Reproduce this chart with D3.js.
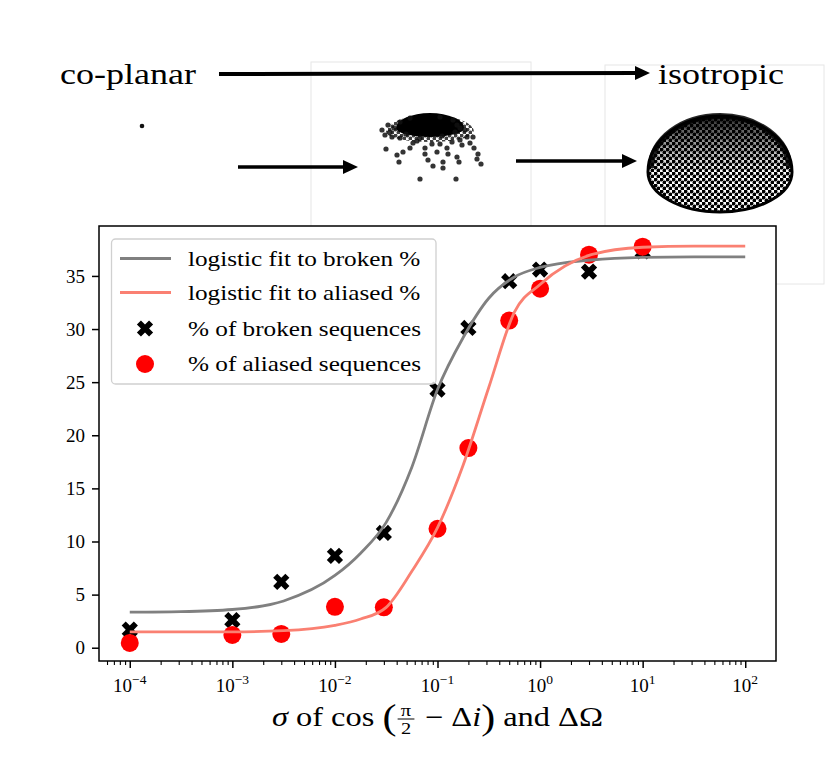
<!DOCTYPE html>
<html>
<head>
<meta charset="utf-8">
<script src="https://d3js.org/d3.v7.min.js"></script>
<style>
body{margin:0;background:#fff;}
text{font-family:"Liberation Serif","DejaVu Serif",serif;fill:#000;}
</style>
</head>
<body>
<script>
var w = 831;
var h = 759;

// sigma values of the runs and the measured percentages
var sigma = [1e-4, 1e-3, 3e-3, 1e-2, 3e-2, 1e-1, 2e-1, 5e-1, 1, 3, 10];
var brokenPct = [1.7, 2.6, 6.2, 8.65, 10.8, 24.3, 30.1, 34.5, 35.6, 35.4, 37.3];
var aliasedPct = [0.45, 1.2, 1.3, 3.85, 3.8, 11.2, 18.8, 30.8, 33.8, 37.0, 37.75];

// logistic fit curves
var fitSigma = [1e-4, 3.16e-4, 1e-3, 3.16e-3, 1e-2, 1.78e-2, 3.16e-2, 5.62e-2, 1e-1, 1.78e-1, 3.16e-1, 5.62e-1, 1, 3.16, 10, 31.6, 100];
var brokenFit = [3.35, 3.4, 3.6, 4.4, 6.8, 8.9, 11.8, 17.0, 24.3, 29.2, 32.9, 34.9, 35.8, 36.5, 36.75, 36.8, 36.8];
var aliasedFit = [1.5, 1.5, 1.5, 1.6, 2.1, 2.7, 3.8, 7.2, 11.3, 17.2, 24.5, 31.6, 34.2, 37.0, 37.7, 37.8, 37.8];

var yTicks = [0, 5, 10, 15, 20, 25, 30, 35];
var xTickExp = [-4, -3, -2, -1, 0, 1, 2];
var legendLabels = ["logistic fit to broken %", "logistic fit to aliased %",
                    "% of broken sequences", "% of aliased sequences"];
var topLabels = ["co-planar", "isotropic"];

// scattered points of the middle inset (offsets from the cloud centre)
var cloudPts = [[-48,-10],[-45,-5],[-44,9],[-33,15],[-31,22],[-27,12],[-10,39],[26,39],[-2,20],[3,26],
                [13,22],[13,28],[27,17],[29,22],[48,14],[47,19],[51,24],[40,3],[43,-3],[32,5],
                [30,-12],[27,-15],[-42,-15],[-40,-8],[-30,-2],[-17,3],[-5,8],[7,12],[17,8],[22,2],
                [30,0],[-5,14],[-30,-18],[-20,-22],[10,-23],[23,-20],[-13,1],[2,4],[18,14],[37,-3],
                [-36,-12],[-24,-6],[-10,-2],[12,-4],[25,-8],[35,-10],[-38,-3],[-20,8],[10,4],[44,8]];

// Computer Modern is about 20% wider than Liberation Serif
var widen = 1.2;
function stretch(sel) {
    sel.each(function(){
        var n = this;
        n.setAttribute("textLength", n.getComputedTextLength() * widen);
        n.setAttribute("lengthAdjust", "spacingAndGlyphs");
    });
}

var svg = d3.select("body").append("svg")
    .attr("width", w)
    .attr("height", h)
    .style("display", "block");

var defs = svg.append("defs");
defs.append("marker")
    .attr("id", "head")
    .attr("markerUnits", "userSpaceOnUse")
    .attr("viewBox", "0 -7 15 14")
    .attr("refX", 3).attr("refY", 0)
    .attr("markerWidth", 15).attr("markerHeight", 14)
    .attr("orient", "auto")
  .append("path")
    .attr("d", "M0,-7L15,0L0,7Z")
    .attr("fill", "#000");

var pat = defs.append("pattern")
    .attr("id", "dots")
    .attr("patternUnits", "userSpaceOnUse")
    .attr("width", 6).attr("height", 6);
pat.append("circle").attr("cx", 1.5).attr("cy", 1.5).attr("r", 1.95).attr("fill", "#000");
pat.append("circle").attr("cx", 4.5).attr("cy", 4.5).attr("r", 1.95).attr("fill", "#000");

var grad = defs.append("linearGradient")
    .attr("id", "capShade")
    .attr("x1", 0).attr("y1", 0).attr("x2", 0).attr("y2", 1);
grad.append("stop").attr("offset", "0%").attr("stop-color", "#000").attr("stop-opacity", 0.85);
grad.append("stop").attr("offset", "55%").attr("stop-color", "#000").attr("stop-opacity", 0.35);
grad.append("stop").attr("offset", "100%").attr("stop-color", "#000").attr("stop-opacity", 0);

// ---------- insets above the chart ----------
var insets = svg.append("g");

insets.selectAll("rect.frame")
    .data([[311, 62, 220, 220], [605, 65, 219, 219]])
  .enter().append("rect")
    .attr("class", "frame")
    .attr("x", function(d){ return d[0]; })
    .attr("y", function(d){ return d[1]; })
    .attr("width", function(d){ return d[2]; })
    .attr("height", function(d){ return d[3]; })
    .attr("fill", "none")
    .attr("stroke", "#e6e6e6")
    .attr("stroke-width", 1);

insets.append("text").attr("x", 60).attr("y", 84)
    .style("font-size", "30px").text(topLabels[0]).call(stretch);
insets.append("text").attr("x", 658).attr("y", 84)
    .style("font-size", "30px").text(topLabels[1]).call(stretch);

insets.selectAll("line.arrow")
    .data([[219, 74, 650, 73, 4], [238, 167, 358, 167, 3.5], [516, 161, 637, 161, 3.5]])
  .enter().append("line")
    .attr("class", "arrow")
    .attr("x1", function(d){ return d[0]; })
    .attr("y1", function(d){ return d[1]; })
    .attr("x2", function(d){ return d[2] - 12; })
    .attr("y2", function(d){ return d[3]; })
    .attr("stroke", "#000")
    .attr("stroke-width", function(d){ return d[4]; })
    .attr("marker-end", "url(#head)");

// co-planar: all points on one spot
insets.append("circle").attr("cx", 142).attr("cy", 126).attr("r", 2.3).attr("fill", "#111");

// intermediate: dense cap plus scattered points
var cloud = insets.append("g").attr("transform", "translate(430,140)");
cloud.append("path")
    .attr("d", "M-44,-8A44,17 0 0 1 44,-8A44,10 0 0 1 -44,-8Z")
    .attr("fill", "url(#dots)").attr("opacity", 0.75);
cloud.append("path")
    .attr("d", "M-34,-12A34,15 0 0 1 34,-12A34,9 0 0 1 -34,-12Z")
    .attr("fill", "#000");
cloud.selectAll("circle")
    .data(cloudPts)
  .enter().append("circle")
    .attr("cx", function(d){ return d[0]; })
    .attr("cy", function(d){ return d[1]; })
    .attr("r", 2.6)
    .attr("fill", "#111")
    .attr("opacity", 0.85);

// isotropic: dotted dome, denser towards its top
var dome = insets.append("g").attr("transform", "translate(720,172)");
dome.append("path")
    .attr("d", "M-72,0A72,56 0 0 1 72,0A72,40 0 0 1 -72,0Z")
    .attr("fill", "url(#dots)")
    .attr("stroke", "#000")
    .attr("stroke-width", 3);
dome.append("path")
    .attr("d", "M-72,0A72,56 0 0 1 72,0Z")
    .attr("fill", "url(#capShade)");
dome.append("path")
    .attr("d", "M-69,-4A69,52 0 0 1 69,-4")
    .attr("fill", "none")
    .attr("stroke", "#000")
    .attr("stroke-width", 6)
    .attr("opacity", 0.85);

// ---------- main chart ----------
var L = 99, R = 776, T = 226, B = 661;

var x = d3.scaleLog()
    .domain([Math.pow(10, -4.3), Math.pow(10, 2.3)])
    .range([L, R]);
var y = d3.scaleLinear()
    .domain([-1.25, 39.7])
    .range([B, T]);

svg.append("rect")
    .attr("x", L).attr("y", T)
    .attr("width", R - L).attr("height", B - T)
    .attr("fill", "#fff");

// minor ticks
var minor = [];
for (var e = -5; e <= 2; e++) {
    for (var m = 2; m <= 9; m++) {
        var v = m * Math.pow(10, e);
        if (v > x.domain()[0] && v < x.domain()[1]) minor.push(v);
    }
}
svg.append("g")
    .attr("transform", "translate(0," + B + ")")
    .call(d3.axisBottom(x).tickValues(minor).tickSize(4).tickFormat(""))
    .call(function(g){ g.select(".domain").remove(); })
    .selectAll("line").attr("stroke-width", 1.1);

var xAxis = svg.append("g")
    .attr("transform", "translate(0," + B + ")")
    .call(d3.axisBottom(x).tickValues(xTickExp.map(function(p){ return Math.pow(10, p); }))
        .tickSize(7).tickFormat(""))
    .call(function(g){ g.select(".domain").remove(); });
xAxis.selectAll("line").attr("stroke-width", 1.5);

var xl = svg.append("g").selectAll("text")
    .data(xTickExp)
  .enter().append("text")
    .attr("x", function(p){ return x(Math.pow(10, p)); })
    .attr("y", 692)
    .attr("text-anchor", "middle")
    .style("font-size", "19px");
xl.append("tspan").text("10");
xl.append("tspan")
    .attr("dy", -8)
    .style("font-size", "13.5px")
    .text(function(p){ return p < 0 ? "\u2212" + (-p) : "" + p; });

var yAxis = svg.append("g")
    .attr("transform", "translate(" + L + ",0)")
    .call(d3.axisLeft(y).tickValues(yTicks).tickSize(7).tickPadding(7))
    .call(function(g){ g.select(".domain").remove(); });
yAxis.selectAll("line").attr("stroke-width", 1.5);
yAxis.selectAll("text")
    .style("font-family", "'Liberation Serif', serif")
    .style("font-size", "19px")
    .attr("fill", "#000");

// scatter markers
var crossSym = d3.symbol().type(d3.symbolCross).size(165);
svg.append("g").selectAll("path")
    .data(sigma)
  .enter().append("path")
    .attr("d", crossSym)
    .attr("transform", function(d, i){
        return "translate(" + x(d) + "," + y(brokenPct[i]) + ") rotate(45)";
    })
    .attr("fill", "#000");

svg.append("g").selectAll("circle")
    .data(sigma)
  .enter().append("circle")
    .attr("cx", function(d){ return x(d); })
    .attr("cy", function(d, i){ return y(aliasedPct[i]); })
    .attr("r", 9)
    .attr("fill", "#ff0000");

// fit lines
var fitLine = function(vals){
    return d3.line()
        .curve(d3.curveMonotoneX)
        .x(function(d){ return x(d); })
        .y(function(d, i){ return y(vals[i]); })(fitSigma);
};
svg.append("path")
    .attr("d", fitLine(brokenFit))
    .attr("fill", "none")
    .attr("stroke", "#808080")
    .attr("stroke-width", 2.8);
svg.append("path")
    .attr("d", fitLine(aliasedFit))
    .attr("fill", "none")
    .attr("stroke", "#fa8072")
    .attr("stroke-width", 2.8);

// frame
svg.append("rect")
    .attr("x", L).attr("y", T)
    .attr("width", R - L).attr("height", B - T)
    .attr("fill", "none")
    .attr("stroke", "#000")
    .attr("stroke-width", 1.5);

// legend
var lg = svg.append("g");
lg.append("rect")
    .attr("x", 111.5).attr("y", 239)
    .attr("width", 324.5).attr("height", 145)
    .attr("rx", 4)
    .attr("fill", "#fff").attr("fill-opacity", 0.8)
    .attr("stroke", "#d0d0d0")
    .attr("stroke-width", 1.3);

var rowY = [258.5, 292.5, 328.5, 364];
lg.append("line").attr("x1", 120).attr("x2", 171).attr("y1", rowY[0]).attr("y2", rowY[0])
    .attr("stroke", "#808080").attr("stroke-width", 2.8);
lg.append("line").attr("x1", 120).attr("x2", 171).attr("y1", rowY[1]).attr("y2", rowY[1])
    .attr("stroke", "#fa8072").attr("stroke-width", 2.8);
lg.append("path").attr("d", crossSym)
    .attr("transform", "translate(145," + rowY[2] + ") rotate(45)")
    .attr("fill", "#000");
lg.append("circle").attr("cx", 145).attr("cy", rowY[3]).attr("r", 9).attr("fill", "#ff0000");

lg.selectAll("text.lab")
    .data(legendLabels)
  .enter().append("text")
    .attr("class", "lab")
    .attr("x", 188)
    .attr("y", function(d, i){ return rowY[i] + 7; })
    .style("font-size", "21px")
    .text(function(d){ return d; })
    .call(stretch);

// x label: sigma of cos(pi/2 - Delta i) and Delta Omega
var xlab = svg.append("g");
var inner = xlab.append("g");
var cursor = 0;
var nb = "\u00a0";
function piece(str, size, italic, dy) {
    var t = inner.append("text")
        .attr("x", cursor).attr("y", dy || 0)
        .style("font-size", size + "px")
        .style("font-style", italic ? "italic" : "normal")
        .text(str);
    cursor += t.node().getComputedTextLength();
    return t;
}
piece("\u03c3", 27, true);
piece(nb + "of" + nb + "cos" + nb, 27, false);
piece("(", 35, false, 3);
var fx = cursor + 1;
inner.append("text").attr("x", fx + 7).attr("y", -10)
    .attr("text-anchor", "middle").style("font-size", "17px").text("\u03c0");
inner.append("line").attr("x1", fx).attr("x2", fx + 14).attr("y1", -7).attr("y2", -7)
    .attr("stroke", "#000").attr("stroke-width", 1);
inner.append("text").attr("x", fx + 7).attr("y", 8)
    .attr("text-anchor", "middle").style("font-size", "17px").text("2");
cursor = fx + 16;
piece(nb + "\u2212" + nb + "\u0394", 27, false);
piece("i", 27, true);
piece(")", 35, false, 3);
piece(nb + "and" + nb + "\u0394\u03a9", 27, false);
inner.attr("transform", "scale(" + widen + ",1)");
xlab.attr("transform", "translate(" + ((L + R) / 2 - cursor * widen / 2) + ",726)");
</script>
</body>
</html>
